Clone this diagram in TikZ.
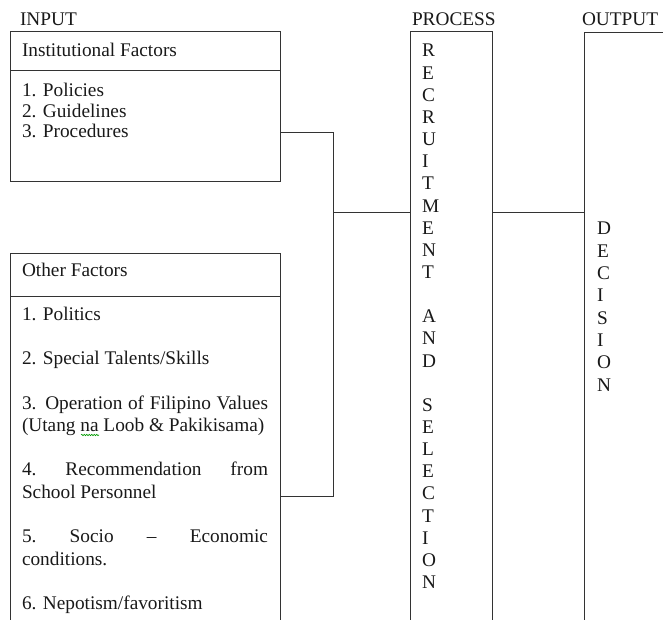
\documentclass[tikz,border=0pt]{standalone}
\usepackage{fontspec}
\setmainfont{Liberation Serif}
\usetikzlibrary{decorations.pathmorphing}
\begin{document}
\begin{tikzpicture}[x=1pt,y=1pt,
  box/.style={draw=black!80,line width=1pt},
  conn/.style={draw=black!80,line width=1pt},
  txt/.style={anchor=base west,inner sep=0pt,outer sep=0pt,font=\fontsize{19.3}{22}\selectfont,text=black!90},
  letter/.style={txt}]
\useasboundingbox (0,0) rectangle (663,620);
% headers
\node[txt] (hin) at (20,594) {INPUT};
\node[txt] (hpr) at (412,594) {PROCESS};
\node[txt] (hout) at (582,594) {OUTPUT};
% institutional box
\draw[box] (10,588) rectangle (280,438.5);
\draw[box] (10,549) -- (280,549);
\node[txt] (inst) at (22,563) {Institutional Factors};
\node[txt] (i1) at (22,523) {1. Policies};
\node[txt] (i2) at (22,502.5) {2. Guidelines};
\node[txt] (i3) at (22,482) {3. Procedures};
% other factors box
\draw[box] (10,0) -- (10,366) -- (280,366) -- (280,0);
\draw[box] (10,323) -- (280,323);
\node[txt] (oth) at (22,343) {Other Factors};
\node[txt] (o1) at (22,299) {1. Politics};
\node[txt] (o2) at (22,255) {2. Special Talents/Skills};
\node[txt] (o3a) at (22,210) {\makebox[246pt][s]{3. Operation of Filipino Values}};
\node[txt] (o3b) at (22,188) {(Utang na Loob \& Pakikisama)};
\node[txt] (o4a) at (22,144) {\makebox[246pt][s]{4.\hfill Recommendation\hfill from}};
\node[txt] (o4b) at (22,121) {School Personnel};
\node[txt] (o5a) at (22,77) {\makebox[246pt][s]{5.\hfill Socio\hfill –\hfill Economic}};
\node[txt] (o5b) at (22,54) {conditions.};
\node[txt] (o6) at (22,10) {6. Nepotism/favoritism};
\draw[green!60!black,line width=0.6pt,decorate,decoration={snake,amplitude=0.7pt,segment length=2.5pt}] (81,185) -- (99,185);
% process box
\draw[box] (410,0) -- (410,588) -- (492,588) -- (492,0);
\foreach \ch [count=\i from 0] in {R,E,C,R,U,I,T,M,E,N,T,{},A,N,D,{},S,E,L,E,C,T,I,O,N}{
  \node[letter] (p\i) at (422,563-22.15*\i) {\ch};
}
% output box
\draw[box] (663,587) -- (584,587) -- (584,0);
\foreach \ch [count=\i from 0] in {D,E,C,I,S,I,O,N}{
  \node[letter] (d\i) at (597,385-22.3*\i) {\ch};
}
% connector coordinates
\coordinate (instR) at (280,487);
\coordinate (othR) at (280,123);
\coordinate (jTop) at (333,487);
\coordinate (jBot) at (333,123);
\coordinate (jMid) at (333,407);
\coordinate (procL) at (410,407);
\coordinate (procR) at (492,407);
\coordinate (outL) at (584,407);
\draw[conn] (instR) -- (jTop) -- (jBot) -- (othR);
\draw[conn] (jMid) -- (procL);
\draw[conn] (procR) -- (outL);
\end{tikzpicture}
\end{document}
